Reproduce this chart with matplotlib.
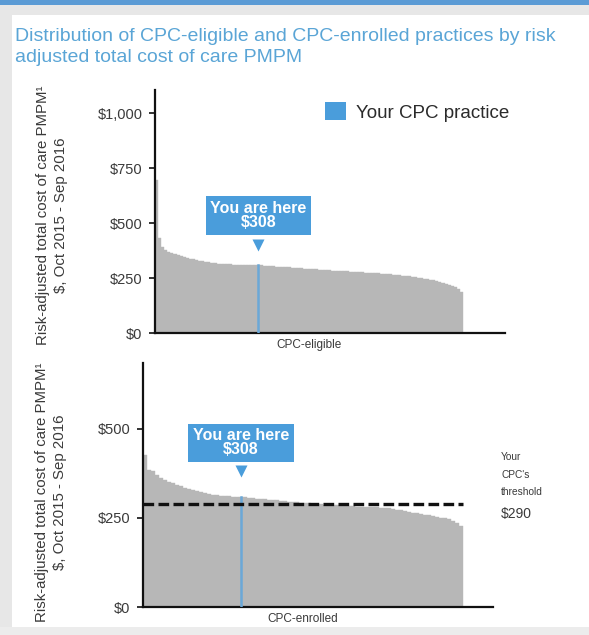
import matplotlib
matplotlib.use("Agg")
import matplotlib.pyplot as plt
from matplotlib.patches import Rectangle, Patch

plt.rcParams['font.family'] = ['Liberation Sans', 'DejaVu Sans']

# Risk-adjusted total cost of care PMPM, practices sorted high to low
eligible_costs = [
    695, 430, 392, 378, 370, 364, 359, 354, 350, 346,
    342, 338, 335, 332, 329, 326, 324, 322, 320, 318,
    316, 315, 314, 313, 312, 311, 311, 310, 310, 309,
    309, 309, 308, 308, 307, 306, 305, 304, 303, 302,
    301, 300, 299, 298, 297, 296, 295, 294, 293, 292,
    291, 290, 289, 288, 287, 286, 285, 284, 283, 283,
    282, 281, 280, 279, 278, 277, 276, 276, 275, 274,
    273, 272, 271, 270, 269, 268, 267, 266, 264, 263,
    261, 259, 258, 256, 254, 252, 250, 247, 245, 242,
    239, 236, 233, 229, 225, 220, 214, 207, 198, 185,
]
enrolled_costs = [
    427, 386, 381, 370, 362, 357, 352, 347, 343, 339,
    335, 331, 328, 325, 322, 319, 317, 315, 314, 313,
    312, 311, 310, 309, 308, 308, 306, 305, 304, 303,
    302, 301, 300, 299, 298, 297, 296, 295, 294, 293,
    292, 291, 290, 289, 288, 287, 286, 285, 285, 284,
    284, 283, 283, 282, 282, 281, 281, 280, 280, 279,
    278, 277, 275, 273, 271, 269, 267, 265, 263, 261,
    259, 257, 255, 253, 251, 249, 246, 241, 235, 228,
]
eligible_practice_idx = 33
enrolled_practice_idx = 24
practice_cost = 308
threshold = 290

eligible_ticks = [0, 250, 500, 750, 1000]
eligible_tick_labels = ['\\$0', '\\$250', '\\$500', '\\$750', '\\$1,000']
enrolled_ticks = [0, 250, 500]
enrolled_tick_labels = ['\\$0', '\\$250', '\\$500']

title = ("Distribution of CPC-eligible and CPC-enrolled practices by risk\n"
         "adjusted total cost of care PMPM")
ylabel = "Risk-adjusted total cost of care PMPM¹\n\\$, Oct 2015 - Sep 2016"

BAR_GREY = '#b7b7b7'
BLUE = '#4a9ddb'
LINE_BLUE = '#6aa8d8'
TEXT = '#3a3a3a'

W, H = 589, 635
fig = plt.figure(figsize=(W / 100, H / 100), dpi=100)
fig.patch.set_facecolor('white')

# page frame
fig.add_artist(Rectangle((0, 1 - 15 / H), 1, 15 / H, transform=fig.transFigure,
                         facecolor='#e7e7e7', edgecolor='none', zorder=0))
fig.add_artist(Rectangle((0, 0), 12 / W, 1, transform=fig.transFigure,
                         facecolor='#e7e7e7', edgecolor='none', zorder=0))
fig.add_artist(Rectangle((0, 0), 1, 8 / H, transform=fig.transFigure,
                         facecolor='#ececec', edgecolor='none', zorder=0))
fig.add_artist(Rectangle((0, 1 - 5 / H), 1, 5 / H, transform=fig.transFigure,
                         facecolor='#5b9bd5', edgecolor='none', zorder=1))

fig.text(15 / W, 1 - 28 / H, title, color='#5aa5d6', fontsize=14,
         ha='left', va='top', linespacing=1.3)


def px_axes(left, top, right, bottom):
    return fig.add_axes([left / W, 1 - bottom / H, (right - left) / W, (bottom - top) / H])


def style_axes(ax, values, ymax, ticks, tick_labels, cat_label, bar_end_frac):
    n = len(values)
    xs = range(n)
    ax.bar(xs, values, width=1.0, align='edge', color=BAR_GREY,
           edgecolor=BAR_GREY, linewidth=0.3, zorder=1)
    ax.set_xlim(0, n / bar_end_frac)
    ax.set_ylim(0, ymax)
    for s in ('top', 'right'):
        ax.spines[s].set_visible(False)
    for s in ('left', 'bottom'):
        ax.spines[s].set_linewidth(1.6)
        ax.spines[s].set_color('#111111')
    ax.set_yticks(ticks)
    ax.set_yticklabels(tick_labels)
    ax.tick_params(axis='y', length=4, width=1.2, color='#111111', pad=5,
                   labelsize=10.5, labelcolor=TEXT)
    ax.set_xticks([n / 2])
    ax.set_xticklabels([cat_label])
    ax.tick_params(axis='x', length=0, pad=4, labelsize=8.5, labelcolor=TEXT)
    ax.set_facecolor('none')


def you_are_here(ax, idx, box_y, arrow_y):
    x = idx + 0.5
    ax.plot([x, x], [0, practice_cost], color=LINE_BLUE, lw=1.8, zorder=3)
    ax.text(x, box_y, "You are here\n\\$308", color='white', fontsize=11.5,
            fontweight='bold', ha='center', va='center', linespacing=0.95,
            zorder=5,
            bbox=dict(boxstyle='square,pad=0.28', facecolor=BLUE, edgecolor='none'))
    ax.plot([x], [arrow_y], marker='v', markersize=9, color=BLUE,
            markeredgecolor='none', zorder=5)


# CPC-eligible
ax1 = px_axes(155, 90, 505, 333)
style_axes(ax1, eligible_costs, 1105, eligible_ticks, eligible_tick_labels,
           'CPC-eligible', (463 - 155) / (505 - 155))
you_are_here(ax1, eligible_practice_idx, 534, 400)
leg = ax1.legend(handles=[Patch(facecolor=BLUE, edgecolor='none', label='Your CPC practice')],
                 loc='center left', bbox_to_anchor=(0.46, 0.91), frameon=False,
                 handlelength=1.1, handleheight=1.1, handletextpad=0.55,
                 borderpad=0, fontsize=13.5)
for t in leg.get_texts():
    t.set_color('#2b2b2b')

# CPC-enrolled
ax2 = px_axes(143, 363, 493, 607)
style_axes(ax2, enrolled_costs, 685, enrolled_ticks, enrolled_tick_labels,
           'CPC-enrolled', (463 - 143) / (493 - 143))
n2 = len(enrolled_costs)
ax2.plot([0, n2], [threshold, threshold], color='#111111', lw=2.4,
         dashes=(3.2, 1.3), zorder=4)
you_are_here(ax2, enrolled_practice_idx, 461, 382)
ax2.text(1.023, (threshold + 18) / 685, "Your\nCPC's\nthreshold", transform=ax2.transAxes,
         fontsize=7.3, color=TEXT, ha='left', va='bottom', linespacing=1.95)
ax2.text(1.023, (threshold - 30) / 685, "\\$%d" % threshold, transform=ax2.transAxes,
         fontsize=10, color=TEXT, ha='left', va='center')

# axis titles
fig.text(52 / W, 1 - 215 / H, ylabel, rotation=90, ha='center', va='center',
         fontsize=10.8, color=TEXT, linespacing=1.3)
fig.text(51 / W, 1 - 492 / H, ylabel, rotation=90, ha='center', va='center',
         fontsize=10.8, color=TEXT, linespacing=1.3)

fig.savefig('out.png', dpi=100, facecolor=fig.get_facecolor())
